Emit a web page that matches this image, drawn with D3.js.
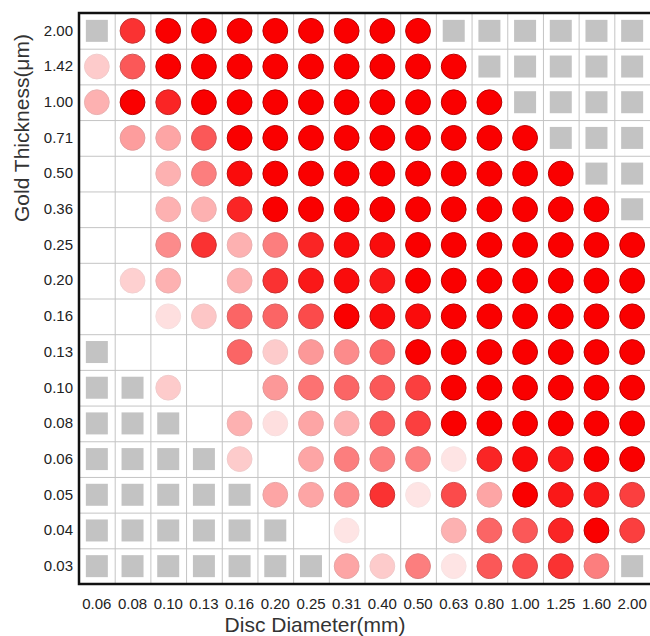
<!DOCTYPE html>
<html>
<head>
<meta charset="utf-8">
<script src="https://cdn.jsdelivr.net/npm/d3@7"></script>
<style>
  body { margin: 0; background: #fff; }
  text { font-family: Arial, "Liberation Sans", sans-serif; fill: #222; }
  .tick text { font-size: 15px; }
  .axis-label { font-size: 21px; fill: #333; }
</style>
</head>
<body>
<div id="chart"></div>
<script>
// column / row categories
const diameters = ["0.06", "0.08", "0.10", "0.13", "0.16", "0.20", "0.25", "0.31",
  "0.40", "0.50", "0.63", "0.80", "1.00", "1.25", "1.60", "2.00"];
const thicknesses = ["2.00", "1.42", "1.00", "0.71", "0.50", "0.36", "0.25", "0.20",
  "0.16", "0.13", "0.10", "0.08", "0.06", "0.05", "0.04", "0.03"];

// cell intensity (0-1), null = empty, -1 = not measured (grey square)
const S = -1;
const cellValues = [
  [S, 0.8, 1, 1, 1, 1, 1, 1, 1, 1, S, S, S, S, S, S],
  [0.2, 0.65, 1, 1, 1, 1, 1, 1, 1, 1, 1, S, S, S, S, S],
  [0.3, 1, 0.85, 1, 1, 1, 1, 1, 1, 1, 1, 1, S, S, S, S],
  [null, 0.38, 0.35, 0.65, 1, 1, 1, 1, 1, 1, 1, 1, 1, S, S, S],
  [null, null, 0.3, 0.5, 0.95, 1, 1, 1, 1, 1, 1, 1, 1, 1, S, S],
  [null, null, 0.3, 0.3, 0.85, 1, 1, 1, 1, 1, 1, 1, 1, 1, 1, S],
  [null, null, 0.45, 0.8, 0.3, 0.5, 0.85, 0.95, 0.95, 1, 1, 1, 1, 1, 1, 1],
  [null, 0.18, 0.3, null, 0.3, 0.8, 0.9, 0.95, 0.9, 1, 1, 1, 1, 1, 1, 1],
  [null, null, 0.12, 0.22, 0.6, 0.6, 0.7, 1, 0.95, 0.95, 1, 1, 1, 1, 1, 1],
  [S, null, null, null, 0.6, 0.2, 0.4, 0.45, 0.6, 1, 1, 1, 1, 1, 1, 1],
  [S, S, 0.2, null, null, 0.4, 0.55, 0.6, 0.65, 0.75, 1, 1, 1, 1, 1, 1],
  [S, S, S, null, 0.3, 0.12, 0.35, 0.3, 0.65, 0.75, 1, 1, 1, 1, 1, 1],
  [S, S, S, S, 0.2, null, 0.35, 0.5, 0.5, 0.5, 0.1, 0.85, 0.95, 0.9, 1, 1],
  [S, S, S, S, S, 0.35, 0.35, 0.45, 0.8, 0.1, 0.7, 0.35, 1, 0.9, 0.9, 0.75],
  [S, S, S, S, S, S, null, 0.1, null, null, 0.3, 0.6, 0.65, 0.85, 1, 0.75],
  [S, S, S, S, S, S, S, 0.35, 0.2, 0.5, 0.1, 0.65, 0.7, 0.8, 0.5, S]
];

const margin = { top: 13, right: 0, bottom: 52, left: 79 };
const width = 650 - margin.left - margin.right;
const height = 636 - margin.top - margin.bottom;

const svg = d3.select("#chart")
  .append("svg")
  .attr("width", 650)
  .attr("height", 636);

const g = svg.append("g")
  .attr("transform", `translate(${margin.left},${margin.top})`);

const x = d3.scaleBand().domain(diameters).range([0, width]).padding(0);
const y = d3.scaleBand().domain(thicknesses).range([0, height]).padding(0);
const opacity = d3.scaleLinear().domain([0, 1]).range([0, 1]);

// grid lines on the cell borders
const grid = g.append("g").attr("class", "grid");
grid.selectAll(".vline")
  .data(diameters.slice(1))
  .join("line")
  .attr("x1", d => x(d) + 0.5).attr("x2", d => x(d) + 0.5)
  .attr("y1", 0).attr("y2", height)
  .attr("stroke", "#c4c4c4").attr("stroke-width", 1);
grid.selectAll(".hline")
  .data(thicknesses.slice(1))
  .join("line")
  .attr("y1", d => y(d) + 0.5).attr("y2", d => y(d) + 0.5)
  .attr("x1", 0).attr("x2", width)
  .attr("stroke", "#c4c4c4").attr("stroke-width", 1);

// flatten into cells
const cells = [];
thicknesses.forEach((t, i) => {
  diameters.forEach((d, j) => {
    cells.push({ diameter: d, thickness: t, value: cellValues[i][j] });
  });
});

const bw = x.bandwidth();
const bh = y.bandwidth();
const sq = 22;
const r = 12.4;

g.selectAll(".missing")
  .data(cells.filter(c => c.value === S))
  .join("rect")
  .attr("class", "missing")
  .attr("x", c => x(c.diameter) + (bw - sq) / 2)
  .attr("y", c => y(c.thickness) + (bh - sq) / 2)
  .attr("width", sq)
  .attr("height", sq)
  .attr("fill", "#c3c3c3");

g.selectAll(".dot")
  .data(cells.filter(c => c.value !== null && c.value > 0))
  .join("circle")
  .attr("class", "dot")
  .attr("cx", c => x(c.diameter) + bw / 2)
  .attr("cy", c => y(c.thickness) + bh / 2)
  .attr("r", r)
  .attr("fill", "#fa0000")
  .attr("stroke", "#b80000")
  .attr("stroke-width", 1)
  .attr("opacity", c => opacity(c.value));

// axes (labels only, frame drawn below)
g.append("g")
  .attr("class", "x-axis")
  .attr("transform", `translate(0,${height})`)
  .call(d3.axisBottom(x).tickSize(0).tickPadding(14))
  .call(a => a.select(".domain").remove());

g.append("g")
  .attr("class", "y-axis")
  .call(d3.axisLeft(y).tickSize(0).tickPadding(6))
  .call(a => a.select(".domain").remove());

g.selectAll(".tick text").attr("fill", "#222");

// frame
g.append("path")
  .attr("d", `M${width},0H0V${height}H${width}`)
  .attr("fill", "none")
  .attr("stroke", "#111")
  .attr("stroke-width", 2.5);

// axis titles
svg.append("text")
  .attr("class", "axis-label")
  .attr("x", 315)
  .attr("y", 632)
  .attr("text-anchor", "middle")
  .text("Disc Diameter(mm)");

svg.append("text")
  .attr("class", "axis-label")
  .attr("transform", "rotate(-90)")
  .attr("x", -128)
  .attr("y", 29)
  .attr("text-anchor", "middle")
  .text("Gold Thickness(μm)");
</script>
</body>
</html>
